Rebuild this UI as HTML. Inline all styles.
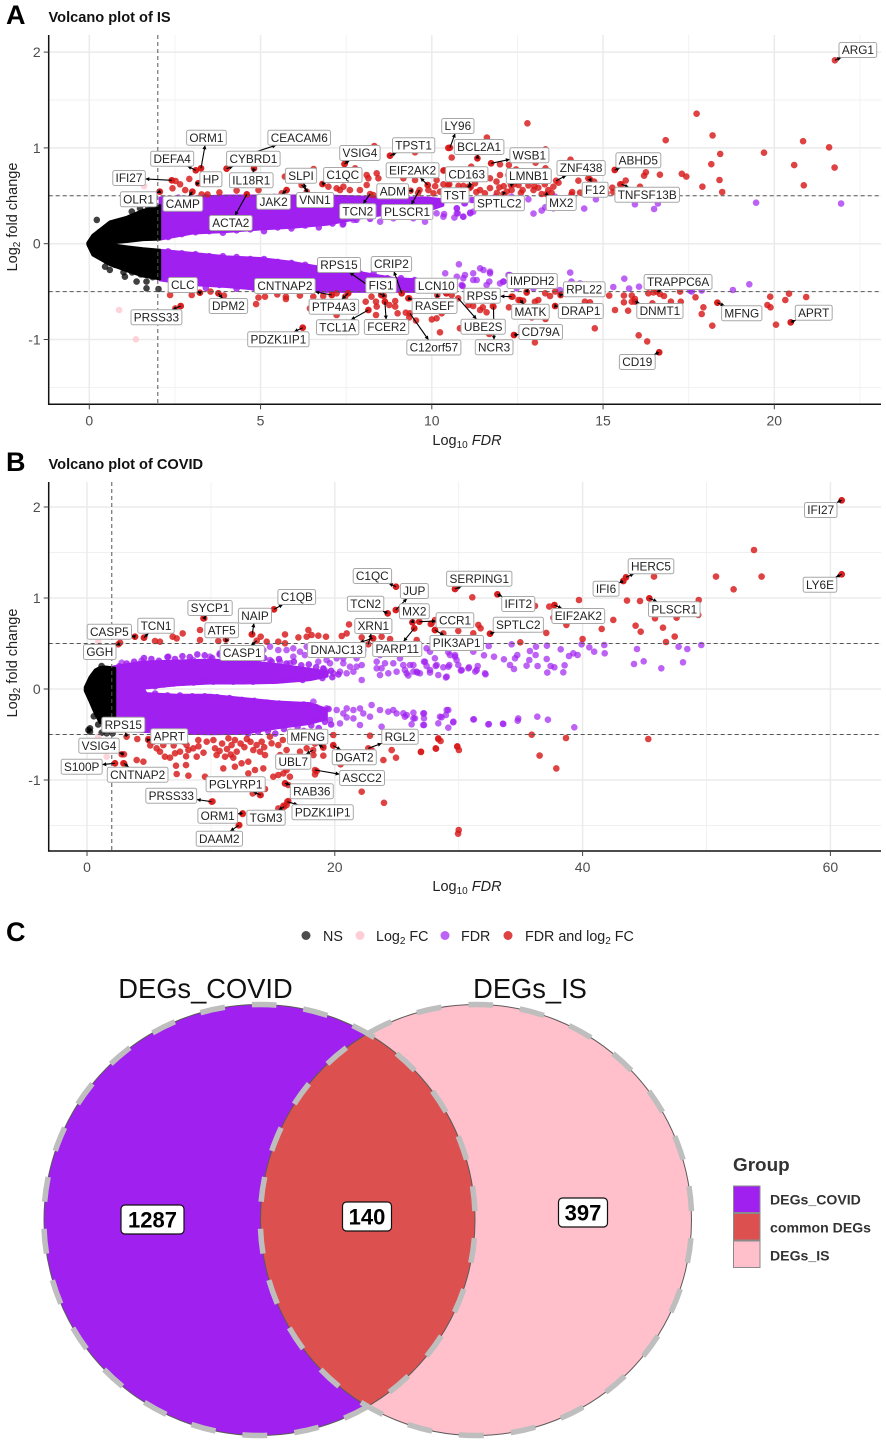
<!DOCTYPE html>
<html lang="en">
<head>
<meta charset="utf-8">
<title>Volcano plots of IS and COVID with DEG Venn diagram</title>
<style>
html,body{margin:0;padding:0;background:#fff;}
svg{display:block;font-family:"Liberation Sans",Arial,sans-serif;}
</style>
</head>
<body>
<svg id="fig" xmlns="http://www.w3.org/2000/svg" width="886" height="1442" viewBox="0 0 886 1442">
  <text x="6" y="24" font-size="27" font-weight="700" fill="#000">A</text>
  <text x="48.5" y="22" font-size="14.6" font-weight="700" fill="#111">Volcano plot of IS</text>
  <g id="panelA"></g>
  <text x="467" y="445" font-size="14.5" fill="#222" text-anchor="middle">Log<tspan dy="3" font-size="10">10</tspan><tspan dy="-3" font-style="italic"> FDR</tspan></text>
  <text transform="translate(17,217) rotate(-90)" font-size="14.5" fill="#222" text-anchor="middle">Log<tspan dy="3" font-size="10">2</tspan><tspan dy="-3"> fold change</tspan></text>

  <text x="6" y="471" font-size="27" font-weight="700" fill="#000">B</text>
  <text x="48.5" y="469" font-size="14.6" font-weight="700" fill="#111">Volcano plot of COVID</text>
  <g id="panelB"></g>
  <text x="467" y="891" font-size="14.5" fill="#222" text-anchor="middle">Log<tspan dy="3" font-size="10">10</tspan><tspan dy="-3" font-style="italic"> FDR</tspan></text>
  <text transform="translate(17,663) rotate(-90)" font-size="14.5" fill="#222" text-anchor="middle">Log<tspan dy="3" font-size="10">2</tspan><tspan dy="-3"> fold change</tspan></text>

  <text x="6" y="941" font-size="27" font-weight="700" fill="#000">C</text>

  <g font-size="14.3" fill="#222">
    <g>
      <circle cx="306" cy="935.5" r="4.5" fill="#000" fill-opacity=".7"/>
      <text x="323" y="941">NS</text>
    </g>
    <g>
      <circle cx="360" cy="935.5" r="4.5" fill="#ffc0cb" fill-opacity=".8"/>
      <text x="376" y="941">Log<tspan dy="3" font-size="10">2</tspan><tspan dy="-3"> FC</tspan></text>
    </g>
    <g>
      <circle cx="445" cy="935.5" r="4.5" fill="#a020f0" fill-opacity=".7"/>
      <text x="461" y="941">FDR</text>
    </g>
    <g>
      <circle cx="508" cy="935.5" r="4.5" fill="#d81818" fill-opacity=".82"/>
      <text x="525" y="941">FDR and log<tspan dy="3" font-size="10">2</tspan><tspan dy="-3"> FC</tspan></text>
    </g>
  </g>

  <g>
    <text x="205.5" y="998" font-size="27.3" fill="#111" text-anchor="middle">DEGs_COVID</text>
    <text x="530" y="998" font-size="27.3" fill="#111" text-anchor="middle">DEGs_IS</text>
    <circle cx="476" cy="1220" r="215.5" fill="#ffc0cb"/>
    <circle cx="259.5" cy="1220" r="215.5" fill="#a020f0"/>
    <path d="M367.75 1033.7 A215.5 215.5 0 0 1 367.75 1406.3 A215.5 215.5 0 0 1 367.75 1033.7 Z" fill="#dd5050"/>
    <circle cx="259.5" cy="1220" r="215.5" fill="none" stroke="#5a5a5a" stroke-width="1"/>
    <circle cx="476" cy="1220" r="215.5" fill="none" stroke="#5a5a5a" stroke-width="1"/>
    <path d="M259.5 1004.5 A215.5 215.5 0 1 1 259.5 1435.5 A215.5 215.5 0 1 1 259.5 1004.5" fill="none" stroke="#bebebe" stroke-width="5.5" stroke-dasharray="25 27.1" stroke-dashoffset="8"/>
    <path d="M476 1004.5 A215.5 215.5 0 1 1 476 1435.5 A215.5 215.5 0 1 1 476 1004.5" fill="none" stroke="#bebebe" stroke-width="5.5" stroke-dasharray="25 27.1" stroke-dashoffset="8"/>
    <g>
      <rect x="121" y="1205" width="63" height="29" rx="4" fill="#fff" stroke="#111" stroke-width="1.2"/>
      <text x="152.5" y="1227.5" font-size="22" font-weight="700" text-anchor="middle" fill="#000">1287</text>
    </g>
    <g>
      <rect x="342.5" y="1202" width="49" height="29" rx="4" fill="#fff" stroke="#111" stroke-width="1.2"/>
      <text x="367" y="1224.5" font-size="22" font-weight="700" text-anchor="middle" fill="#000">140</text>
    </g>
    <g>
      <rect x="558.5" y="1198" width="49" height="29" rx="4" fill="#fff" stroke="#111" stroke-width="1.2"/>
      <text x="583" y="1220.5" font-size="22" font-weight="700" text-anchor="middle" fill="#000">397</text>
    </g>
  </g>

  <g>
    <text x="733" y="1171" font-size="18.9" font-weight="700" fill="#333">Group</text>
    <g>
      <rect x="733.5" y="1186" width="26.5" height="26.5" fill="#a020f0" stroke="#8a8a8a" stroke-width="1"/>
      <text x="770" y="1204.5" font-size="14.1" font-weight="700" fill="#333">DEGs_COVID</text>
    </g>
    <g>
      <rect x="733.5" y="1213.5" width="26.5" height="26.5" fill="#dd5050" stroke="#8a8a8a" stroke-width="1"/>
      <text x="770" y="1232.5" font-size="14.1" font-weight="700" fill="#333">common DEGs</text>
    </g>
    <g>
      <rect x="733.5" y="1241" width="26.5" height="26.5" fill="#ffc0cb" stroke="#8a8a8a" stroke-width="1"/>
      <text x="770" y="1260.5" font-size="14.1" font-weight="700" fill="#333">DEGs_IS</text>
    </g>
  </g>
</svg>

<script>
// ---------- Panel A (IS): axes ----------
const isXTicks = [0, 5, 10, 15, 20];
const isXMinor = [2.5, 7.5, 12.5, 17.5, 22.5];
const isYTicks = [-1, 0, 1, 2];
const isYMinor = [-1.5, -0.5, 0.5, 1.5];
const thresholdFdr = 2;
const thresholdFc = [-0.5, 0.5];

// ---------- Panel A: dense clouds (envelopes of the overplotted points) ----------
const isNsCloudFdr = [-0.05, 0.1, 0.6, 1.1, 1.57, 2.06];
const isNsCloudTop = [0.01, 0.09, 0.23, 0.28, 0.35, 0.4];
const isNsCloudInnerTop = [0, 0, 0.005, 0.02, 0.04, 0.045];
const isNsCloudInnerBottom = [0, 0, -0.005, -0.03, -0.05, -0.066];
const isNsCloudBottom = [-0.01, -0.12, -0.22, -0.285, -0.34, -0.37];

const isUpCloudFdr = [2.06, 3.04, 4.01, 4.98, 5.96, 6.93, 7.9, 8.88, 9.85, 10.33];
const isUpCloudTop = [0.48, 0.49, 0.5, 0.5, 0.5, 0.5, 0.49, 0.48, 0.48, 0.46];
const isUpCloudInner = [0.045, 0.11, 0.125, 0.15, 0.17, 0.2, 0.265, 0.32, 0.34, 0.4];

const isDownCloudFdr = [2.06, 3.04, 4.01, 4.98, 5.96, 6.93, 7.9, 8.88, 9.85, 10.4];
const isDownCloudInner = [-0.066, -0.1, -0.135, -0.152, -0.194, -0.257, -0.3, -0.36, -0.38, -0.44];
const isDownCloudBottom = [-0.38, -0.43, -0.45, -0.48, -0.49, -0.5, -0.5, -0.5, -0.5, -0.48];

// ---------- Panel A: points along the rough edges of the clouds ----------
const isEdgeFdr = [2.3, 2.7, 3.1, 3.5, 3.9, 4.3, 4.7, 5.1, 5.5, 5.9, 6.3, 6.7, 7.1, 7.4, 7.8, 8.2, 8.6, 9, 9.4, 9.7,
  2.3, 2.7, 3.1, 3.5, 3.9, 4.3, 4.7, 5.1, 5.5, 5.9, 6.3, 6.7, 7.1, 7.5, 7.9, 8.3, 8.7, 9.1, 9.5, 9.9, 10.3,
  2.4, 2.9, 3.4, 3.8, 4.3, 4.8, 5.3, 5.8, 10.1, 10.4, 10.6, 10.9,
  2.2, 2.6, 3, 3.4, 3.8, 4.2, 4.6, 5, 5.4];
const isEdgeFc = [0.07, 0.1, 0.12, 0.13, 0.115, 0.14, 0.15, 0.13, 0.17, 0.16, 0.19, 0.17, 0.21, 0.2, 0.25, 0.26, 0.3, 0.31, 0.33, 0.36,
  -0.08, -0.1, -0.11, -0.13, -0.13, -0.14, -0.16, -0.16, -0.19, -0.2, -0.22, -0.25, -0.27, -0.28, -0.31, -0.31, -0.36, -0.36, -0.38, -0.4, -0.41,
  -0.41, -0.45, -0.46, -0.43, -0.47, -0.46, -0.49, -0.48, -0.42, -0.45, -0.4, -0.44,
  0.47, 0.48, 0.47, 0.49, 0.48, 0.47, 0.49, 0.48, 0.49];

// ---------- Panel A: individual points ----------
const isNsFdr = [0.22, 0.46, 0.6, 1, 1.38, 1.67, 2.02, 1.04, 1.67, 1.48, 1.72, 1.24, 0.3, 0.5, 0.75, 1, 1.25, 1.5, 1.8, 0.3, 0.5, 0.75, 1, 1.25, 1.5, 1.85];
const isNsFc = [0.248, -0.24, -0.274, -0.298, -0.396, -0.466, -0.473, -0.344, -0.396, 0.369, 0.387, 0.335, 0.12, 0.17, 0.22, 0.24, 0.28, 0.31, 0.36, -0.13, -0.18, -0.22, -0.25, -0.3, -0.32, -0.35];

const isPinkFdr = [1.6, 0.87, 1.36];
const isPinkFc = [0.6, -0.692, -0.998];

const isPurpleFdr = [19.47, 21.95, 16.6, 16.49, 15.93, 14.79, 14.45, 13.6, 13.55, 13.31, 13.21, 12.97, 12.82, 12.33, 11.85, 11.21, 11.12, 10.92, 10.73, 10.76, 10.66, 10.36, 10.95, 11.16, 10.39,
  7.42, 7.71, 8.49, 8.88, 9.46, 9.8, 10.14, 10.34, 10.73, 10.73, 10.92, 11.12, 10.19, 9.95, 10.97, 11.21, 9.56,
  10.79, 14.04, 11.51, 11.7, 15.62, 15.3, 15.76, 16.05, 19.27, 18.79, 17.88, 17.59, 17.54, 14.08, 14.33, 13.74, 12.24, 11.99, 12.09, 11.68, 11.21, 10.97, 10.73, 10.39, 11.31, 10.87, 12.48, 12.97,
  11.7, 12.09, 11.41, 10.92, 11.21, 11.6, 12.28];
const isPurpleFc = [0.428, 0.42, 0.42, 0.362, 0.411, 0.463, 0.366, 0.491, 0.369, 0.38, 0.345, 0.314, 0.463, 0.491, 0.491, 0.334, 0.324, 0.282, 0.369, 0.317, 0.272, 0.31, 0.422, 0.456, 0.456,
  0.213, 0.248, 0.23, 0.265, 0.265, 0.23, 0.317, 0.282, 0.369, 0.317, 0.282, 0.317, 0.439, 0.404, 0.422, 0.456, 0.317,
  -0.215, -0.302, -0.275, -0.309, -0.365, -0.452, -0.469, -0.449, -0.424, -0.483, -0.49, -0.5, -0.49, -0.396, -0.414, -0.483, -0.327, -0.414, -0.396, -0.396, -0.309, -0.327, -0.344, -0.309, -0.379, -0.431, -0.466, -0.466,
  -0.292, -0.396, -0.257, -0.361, -0.379, -0.431, -0.327];

const isRedFdr = [2.05, 2.41, 2.52, 2.65, 2.92, 2.43, 2.8, 3.01, 3.11, 3.18, 3.26, 3.28, 3.45, 3.8, 4.01, 4.3, 4.6, 4.81, 4.94, 5.62, 5.71, 5.76, 6.55, 6.81, 6.98, 7.22, 7.32, 7.42, 7.45, 7.61, 7.76, 7.88, 7.9, 8.1, 8.15, 8.1, 8.29, 8.32, 8.39, 8.44, 8.78, 9.17, 9.51, 9.51, 9.88, 10.05, 10.24, 10.14, 10.34, 10.48, 10.48,
  10.51, 10.58, 11.61, 11.33, 11.73, 11.99, 12.25, 11.15, 10.36, 13.03, 13.32, 13.32, 12.46, 14.05, 11.99, 11.7, 12.24, 12.77, 13.7, 13.55, 13.4, 13.21, 12.82, 12.65, 12.33, 11.97, 11.41, 11.55, 11.89, 11.26, 10.92, 10.78, 10.51, 10.34, 14.28, 14.74, 14.57, 14.33, 14.08, 12.97, 13.11, 12.53, 12.19,
  8.9, 9.2, 9.6, 9.9, 10.1, 10.6, 10.9, 11.1, 11.3, 11.7, 11.9, 12.1, 12.4, 12.6, 13, 13.3, 13.5, 14.1, 14.9, 15.1, 15.3,
  17.73, 12.79, 18.2, 16.83, 20.84, 21.6, 18.42, 19.7, 20.58, 21.76, 18.16, 18.4, 20.86, 17.9, 18.48, 17.3, 17.43, 16.66, 16.25, 16.2, 15.34, 15.66, 15.5, 16.08, 15.27,
  2.36, 2.51, 2.67, 2.99, 3.23, 3.54, 3.77, 3.93, 4.87, 4.94, 5.13, 5.49, 5.74, 5.74, 6.15, 6.54, 6.83, 7.08, 7.22, 7.56, 7.47, 6.44, 7.22, 8.07, 8.24, 8.37, 8.39, 8.37, 8.15, 8.52, 8.63, 8.76, 8.93, 8.93, 9, 9.12, 9.24, 9.34, 9.34, 9.54, 10, 10.14, 10.24, 10.29, 10.43, 6.23,
  10.42, 10.58, 10.82, 11.07, 11.21, 11.41, 11.49, 11.6, 11.78, 11.68, 12.4, 12.25, 12.36, 12.53, 12.67, 12.77, 13.01, 13.11, 12.92, 13.32, 13.01, 13.31, 13.45, 13.6, 13.6, 13.76, 14.47, 14.62, 14.76, 15.18, 15.35, 15.61, 15.61, 15.73, 15.84, 15.84, 15.93, 16.32, 16.47, 16.44, 16.04, 16.29, 16.64, 16.66, 16.78, 16.98, 17.25, 17.27, 17.7, 17.93, 17.88, 18.19, 18.34, 19.8, 19.89, 19.88, 20.05, 20.48, 20.32, 20.43, 20.93];
const isRedFc = [0.543, 0.662, 0.655, 0.62, 0.676, 0.578, 0.56, 0.543, 0.766, 0.63, 0.787, 0.515, 0.515, 0.536, 0.783, 0.554, 0.515, 0.787, 0.56, 0.526, 0.7, 0.56, 0.78, 0.623, 0.595, 0.578, 0.56, 0.595, 0.832, 0.56, 0.787, 0.752, 0.56, 0.717, 0.683, 0.613, 0.508, 1.02, 0.735, 0.683, 0.919, 0.683, 0.954, 0.665, 0.613, 0.526, 0.543, 0.665, 0.763, 1, 0.613,
  1, 0.9, 1.107, 0.891, 0.839, 0.829, 0.822, 0.804, 0.766, 0.846, 0.985, 0.787, 0.776, 0.877, 0.717, 0.683, 0.717, 0.717, 0.637, 0.595, 0.56, 0.519, 0.609, 0.56, 0.56, 0.588, 0.56, 0.526, 0.648, 0.63, 0.603, 0.603, 0.62, 0.62, 0.658, 0.648, 0.683, 0.533, 0.515, 0.56, 0.585, 0.613, 0.543,
  0.55, 0.58, 0.53, 0.56, 0.6, 0.55, 0.54, 0.58, 0.54, 0.58, 0.53, 0.6, 0.62, 0.53, 0.6, 0.62, 0.53, 0.54, 0.57, 0.53, 0.54,
  1.357, 1.257, 1.13, 1.08, 1.07, 1.006, 0.937, 0.95, 0.82, 0.794, 0.83, 0.665, 0.61, 0.595, 0.54, 0.73, 0.7, 0.72, 0.745, 0.71, 0.77, 0.66, 0.62, 0.595, 0.585,
  -0.535, -0.675, -0.65, -0.535, -0.511, -0.5, -0.518, -0.542, -0.63, -0.563, -0.553, -0.529, -0.553, -0.577, -0.542, -0.553, -0.546, -0.535, -0.518, -0.518, -0.553, -0.675, -0.744, -0.605, -0.553, -0.605, -0.657, -0.744, -0.692, -0.535, -0.605, -0.64, -0.598, -0.657, -0.727, -0.518, -0.72, -0.57, -0.769, -0.803, -0.79, -0.779, -0.925, -0.727, -0.518, -0.877,
  -0.518, -0.535, -0.883, -0.64, -0.65, -0.692, -0.664, -0.716, -0.65, -0.943, -0.953, -0.664, -0.553, -0.588, -0.595, -0.511, -0.605, -0.588, -0.769, -0.786, -1.03, -0.518, -0.546, -0.5, -0.65, -0.535, -0.605, -0.612, -0.883, -0.542, -0.692, -0.542, -0.612, -0.699, -0.542, -0.605, -0.577, -0.518, -0.508, -0.622, -0.956, -1.02, -1.134, -0.525, -0.546, -0.605, -0.5, -0.605, -0.56, -0.664, -0.734, -0.856, -0.616, -0.64, -0.664, -0.553, -0.845, -0.821, -0.588, -0.522, -0.556];

// ---------- Panel A: labelled genes ----------
const isGeneNames = ["ORM1","CEACAM6","DEFA4","CYBRD1","HP","IL18R1","IFI27","OLR1","CAMP","ACTA2","JAK2","SLPI","VNN1","C1QC","VSIG4","TPST1","EIF2AK2","ADM","TCN2","PLSCR1","LY96","BCL2A1","WSB1","CD163","TST","LMNB1","ZNF438","SPTLC2","MX2","F12","ABHD5","TNFSF13B","ARG1","RPS15","CRIP2","CLC","CNTNAP2","FIS1","LCN10","DPM2","PTP4A3","RASEF","TCL1A","FCER2","PDZK1IP1","PRSS33","C12orf57","IMPDH2","TRAPPC6A","RPL22","RPS5","MATK","DRAP1","DNMT1","MFNG","APRT","UBE2S","NCR3","CD79A","CD19"];
const isGeneFdr = [3.26, 4.49, 3.11, 4.01, 3.18, 4.81, 2.41, 2.06, 3.01, 4.6, 5.76, 6.35, 6.2, 6.81, 7.45, 8.78, 9.88, 9.38, 8.2, 9.64, 10.53, 11.33, 11.73, 11.14, 11.07, 12.31, 13.63, 12.09, 13.35, 14.62, 15.34, 15.54, 21.77, 8.54, 9.12, 3.23, 7.08, 8.6, 10.16, 3.77, 7.56, 9.31, 8.15, 8.63, 6.23, 2.67, 9.36, 12.77, 16.57, 13.76, 12.33, 12.58, 13.6, 15.93, 18.34, 20.48, 10.77, 11.8, 12.4, 16.64];
const isGeneFc = [0.787, 0.915, 0.766, 0.783, 0.63, 0.787, 0.662, 0.543, 0.543, 0.516, 0.56, 0.543, 0.613, 0.623, 0.832, 0.919, 0.613, 0.553, 0.519, 0.56, 1.002, 0.891, 0.839, 0.595, 0.595, 0.613, 0.658, 0.519, 0.519, 0.672, 0.769, 0.62, 1.914, -0.535, -0.518, -0.511, -0.535, -0.546, -0.535, -0.518, -0.518, -0.57, -0.692, -0.605, -0.877, -0.65, -0.726, -0.501, -0.501, -0.535, -0.553, -0.588, -0.65, -0.605, -0.616, -0.82, -0.57, -0.658, -0.953, -1.134];
const isLabelFdr = [3.42, 6.13, 2.42, 4.79, 3.55, 4.73, 1.16, 1.44, 2.73, 4.13, 5.38, 6.18, 6.59, 7.4, 7.9, 9.47, 9.44, 8.86, 7.84, 9.28, 10.76, 11.38, 12.85, 11.02, 10.68, 12.83, 14.36, 11.97, 13.78, 14.77, 16.03, 16.29, 22.44, 7.29, 8.82, 2.73, 5.71, 8.52, 10.13, 4.06, 7.14, 10.08, 7.25, 8.68, 5.52, 1.96, 10.06, 12.93, 17.19, 14.45, 11.47, 12.88, 14.35, 16.66, 19.05, 21.15, 11.5, 11.82, 13.18, 16];
const isLabelFc = [1.106, 1.106, 0.887, 0.887, 0.672, 0.662, 0.686, 0.463, 0.418, 0.216, 0.438, 0.71, 0.456, 0.717, 0.947, 1.027, 0.766, 0.547, 0.338, 0.331, 1.229, 1.009, 0.923, 0.724, 0.505, 0.707, 0.79, 0.422, 0.425, 0.564, 0.871, 0.511, 2.022, -0.222, -0.212, -0.431, -0.442, -0.434, -0.438, -0.65, -0.658, -0.65, -0.873, -0.87, -0.998, -0.768, -1.083, -0.389, -0.4, -0.476, -0.543, -0.71, -0.703, -0.703, -0.727, -0.72, -0.866, -1.081, -0.922, -1.235];

// ---------- Panel B (COVID): axes ----------
const covidXTicks = [0, 20, 40, 60];
const covidXMinor = [10, 30, 50];
const covidYTicks = [-1, 0, 1, 2];
const covidYMinor = [-1.5, -0.5, 0.5, 1.5];

// ---------- Panel B: dense clouds ----------
const covidNsCloudFdr = [-0.16, 0.24, 0.65, 1.05, 1.45, 1.86, 2.26];
const covidNsCloudTop = [0.02, 0.135, 0.21, 0.24, 0.245, 0.24, 0.23];
const covidNsCloudBottom = [-0.02, -0.14, -0.27, -0.37, -0.37, -0.36, -0.34];

const covidUpCloudFdr = [2.13, 4.54, 4.8, 7.23, 9.93, 12.62, 15.3, 18, 19.4];
const covidUpCloudTop = [0.245, 0.3, 0.3, 0.31, 0.32, 0.31, 0.27, 0.22, 0.19];
const covidUpCloudInner = [0, 0, 0.01, 0.044, 0.063, 0.063, 0.07, 0.1, 0.14];

const covidDownCloudFdr = [2.26, 4.55, 4.8, 7.24, 9.93, 12.62, 15.31, 18, 19.34];
const covidDownCloudInner = [0, 0, -0.048, -0.066, -0.066, -0.103, -0.14, -0.158, -0.22];
const covidDownCloudBottom = [-0.45, -0.47, -0.47, -0.488, -0.495, -0.49, -0.43, -0.38, -0.33];

// ---------- Panel B: points along the rough edges of the clouds ----------
const covidEdgeFdr = [2.6, 3.2, 3.8, 4.6, 5.2, 5.8, 6.5, 7.1, 7.7, 8.3, 8.9, 9.5, 10.1, 10.7, 11.3, 11.9, 12.5, 13.1, 13.7, 14.3, 14.9, 15.5, 16.1, 16.7, 17.3, 17.9, 18.5, 19.1, 19.7, 20.3,
  5.5, 6.2, 7, 7.8, 8.6, 9.4, 10.2, 11, 11.8, 12.6, 13.4, 14.2, 15, 15.8, 16.6, 17.4, 18.2, 19, 19.8,
  5.5, 6.5, 7.5, 8.5, 9.5, 10.5, 11.5, 12.5, 13.5, 14.5, 15.5, 16.5, 17.5, 18.5, 19.5,
  13, 13.8, 14.6, 15.2, 15.9, 16.4, 17, 17.5, 18.1, 18.7, 19.2, 19.7];
const covidEdgeFc = [0.25, 0.28, 0.3, 0.34, 0.33, 0.31, 0.35, 0.33, 0.36, 0.35, 0.38, 0.37, 0.34, 0.38, 0.36, 0.33, 0.35, 0.37, 0.32, 0.34, 0.3, 0.33, 0.28, 0.3, 0.26, 0.27, 0.24, 0.22, 0.2, 0.16,
  0.03, 0.05, 0.06, 0.07, 0.07, 0.09, 0.08, 0.09, 0.08, 0.09, 0.08, 0.1, 0.09, 0.1, 0.11, 0.1, 0.13, 0.12, 0.13,
  -0.05, -0.07, -0.07, -0.08, -0.08, -0.09, -0.1, -0.12, -0.13, -0.15, -0.16, -0.18, -0.17, -0.2, -0.22,
  -0.49, -0.47, -0.46, -0.49, -0.44, -0.47, -0.42, -0.46, -0.4, -0.43, -0.36, -0.39];

// ---------- Panel B: individual points ----------
const covidNsFdr = [0.24, 0.11, 0.24, 1.19, 1.59, 2.07, 1.18, 0.55, 0.9, 1.5];
const covidNsFc = [-0.469, -0.45, -0.432, -0.48, -0.487, -0.487, 0.252, -0.3, -0.39, -0.4];

const covidPinkFdr = [0.91, 1.59, 0.9, 1.18];
const covidPinkFc = [0.52, -0.744, -0.524, -0.615];

const covidPurpleFdr = [6.56, 4.41, 2.8, 12.62, 13.29, 14.23, 14.77, 15.44, 16.11, 16.65, 17.19, 17.59, 18.67, 19.07, 19.61, 20.15, 20.69, 21.5, 22.17, 22.3, 21.23, 22.17, 23.38, 23.78, 24.32, 24.72, 25.26, 25.8, 26.34, 26.88, 27.28, 27.68, 28.22, 29.03, 29.16, 29.7, 30.24, 30.78, 31.45, 32.12, 23.65, 27.41, 29.3,
  19.34, 19.88, 20.42, 20.96, 21.76, 18.8, 19.34, 20.69, 21.76, 23.38, 24.05, 24.99, 25.53, 26.61, 23.65,
  10.73, 11.81, 12.35, 13.96, 14.77, 15.58, 16.38, 8.58, 9.93, 16.65, 17.73, 18.54,
  34.27, 35.75, 36.24, 37.12, 38.23, 39.92, 40.54, 40.94, 41.75, 41.78, 44.39, 44.15, 44.93, 46.35, 47.75, 48.45, 48.1, 49.58, 39.6, 39.25, 38.9, 37.1, 36.21, 35.7, 34.73, 34.54, 33.65, 32.85, 32.04, 32.42, 34.14, 34.46, 35.48, 36.37, 37.42, 37.72, 37.15, 38.44, 38.55, 32.17, 31.53, 31.34, 30.83, 30.18, 29.83, 29.97, 29.7, 29.24, 28.76, 28.97, 28.14, 28.35, 27.68, 27.41, 27.2, 26.66, 26.34, 25.93, 25.66, 26.07, 28.08, 27.68, 29.16, 31.18,
  25.53, 26.34, 26.47, 27.2, 27.2, 27.2, 28.35, 28.62, 28.97, 29.16, 29.56, 29.16, 31.23, 32.44, 33.57, 34.76, 36.34, 37.2, 39.33, 26.2, 25.66,
  18.27, 17.86, 18.8, 19.34, 20.15, 20.96, 21.5, 22.03, 22.97, 23.65, 24.32, 24.99, 25.8, 26.34, 27.14, 27.14, 28.49, 29.03, 29.57, 31.18, 32.39, 33.6, 34.81, 22.03, 19.61, 20.42, 18.54, 20.96, 22.84, 23.78, 24.72, 20.69, 21.5, 22.3];
const covidPurpleFc = [0.355, 0.311, 0.289, 0.245, 0.282, 0.428, 0.465, 0.428, 0.428, 0.355, 0.41, 0.373, 0.3, 0.227, 0.282, 0.337, 0.282, 0.19, 0.099, 0.428, 0.245, 0.263, 0.3, 0.227, 0.172, 0.282, 0.337, 0.172, 0.263, 0.172, 0.3, 0.208, 0.263, 0.135, 0.245, 0.355, 0.208, 0.227, 0.208, 0.172, 0.373, 0.447, 0.373,
  0.19, 0.172, 0.19, 0.172, 0.245, 0.172, 0.318, 0.337, 0.337, 0.227, 0.282, 0.19, 0.263, 0.19, 0.153,
  0.392, 0.355, 0.41, 0.337, 0.318, 0.3, 0.282, 0.318, 0.355, 0.447, 0.465, 0.428,
  0.491, 0.418, 0.465, 0.476, 0.436, 0.491, 0.458, 0.41, 0.484, 0.392, 0.44, 0.275, 0.304, 0.227, 0.465, 0.44, 0.293, 0.484, 0.374, 0.392, 0.363, 0.33, 0.374, 0.319, 0.374, 0.337, 0.326, 0.355, 0.37, 0.473, 0.264, 0.22, 0.256, 0.253, 0.253, 0.238, 0.18, 0.183, 0.26, 0.161, 0.253, 0.191, 0.238, 0.202, 0.319, 0.264, 0.374, 0.264, 0.238, 0.128, 0.253, 0.154, 0.18, 0.253, 0.3, 0.18, 0.191, 0.147, 0.209, 0.264, 0.337, 0.41, 0.403, 0.41,
  -0.267, -0.26, -0.322, -0.267, -0.322, -0.396, -0.377, -0.311, -0.286, -0.231, -0.366, -0.425, -0.333, -0.385, -0.381, -0.348, -0.304, -0.337, -0.421, -0.388, -0.304,
  -0.14, -0.195, -0.231, -0.213, -0.231, -0.213, -0.231, -0.213, -0.176, -0.231, -0.249, -0.268, -0.286, -0.323, -0.268, -0.396, -0.304, -0.231, -0.359, -0.334, -0.389, -0.385, -0.323, -0.396, -0.341, -0.378, -0.323, -0.312, -0.304, -0.414, -0.231, -0.268, -0.323, -0.268];

const covidRedFdr = [60.91, 53.83, 50.77, 54.45, 52.19, 45.76, 43.5, 43.29, 49.37, 39.71, 43.58, 44.63, 45.39, 31.1, 33.12, 29.7, 36.16, 37.31, 37.72, 37.64, 49.34, 47.59, 45.84, 42.48, 41.54, 38.69, 37.07, 46.49, 44.28, 44.69, 47.43, 46.73, 40, 34.97, 32.53, 31.58, 31.77, 31.18, 29.97, 60.91,
  2.67, 3.88, 4.6, 5.49, 5.89, 6.92, 7.24, 7.72, 9.12, 9.12, 9.39, 10.6, 11.22, 13.29, 14.02, 14.5, 15.44, 15.98, 15.98, 15.09, 17.06, 17.73, 17.87, 18.13, 18.67, 19.29, 20.56, 20.96, 21.15, 22.17, 23.11, 23.78, 24.46, 24.27, 24.94, 24.92, 26.26, 26.82, 26.42, 28.09, 28.09, 26.61, 27.82, 28.76, 27.74, 28.08,
  35.89, 38.66, 36.53, 37.88, 45.3, 28.35, 28.54, 29.89, 30.02, 28.17, 26.95, 30, 29.95,
  5.62, 5.89, 6.29, 6.7, 7.1, 7.51, 8.04, 8.18, 8.58, 8.85, 8.98, 9.66, 10.33, 10.46, 11, 11.14, 11.41, 11.67, 11.94, 12.08, 11.81, 11.94, 12.48, 13.02, 13.42, 13.69, 13.96, 14.1, 14.37, 14.77, 14.9, 15.44, 15.58, 16.11, 16.65, 17.19, 17.73, 18.27, 19.07, 19.07, 19.88, 20.15, 20.47, 24.59, 24.94, 23.92, 22.97, 26.96, 28.14, 28.35, 29.89, 22.84, 22.17, 23.97, 18.54, 18.4, 15.04, 15.44, 15.85, 16.11, 16.38, 15.98, 16.25, 13.56, 14.23, 13.02, 9.52, 14.37, 13.96, 13.37, 10.14, 16.25, 16.11, 15.85, 15.44, 12.56, 12.29, 5.35, 6.16, 10.2, 7.24, 8.18, 7.18, 7.99, 4.06, 4.95, 4.01, 4.55, 2.26, 2.93, 2.8, 19.88,
  5.1, 6.6, 7.8, 9, 9.4, 10.9, 11.3, 12.4, 12.9, 12.7, 13.2, 11.6, 10.7, 7, 8, 15.8, 17.6, 18.4, 6, 14.3];
const covidRedFc = [2.074, 1.528, 1.235, 1.235, 1.096, 1.235, 1.227, 1.187, 0.978, 0.978, 0.971, 0.967, 0.997, 1.008, 1.041, 1.099, 0.913, 0.905, 0.923, 0.784, 0.814, 0.784, 0.777, 0.759, 0.66, 0.704, 0.616, 0.674, 0.696, 0.63, 0.576, 0.517, 0.55, 0.513, 0.608, 0.704, 0.667, 0.612, 0.638, 1.26,
  0.509, 0.575, 0.564, 0.527, 0.52, 0.575, 0.556, 0.611, 0.648, 0.538, 0.776, 0.527, 0.545, 0.6, 0.575, 0.52, 0.52, 0.6, 0.502, 0.875, 0.567, 0.575, 0.648, 0.593, 0.586, 0.575, 0.582, 0.611, 0.71, 0.567, 0.556, 0.575, 0.549, 0.831, 1.124, 0.868, 0.732, 0.74, 0.666, 0.758, 0.648, 0.538, 0.721, 0.611, 0.714, 0.648,
  -0.502, -0.538, -0.732, -0.872, -0.549, -0.542, -0.571, -0.63, -0.67, -0.656, -0.692, -1.55, -1.59,
  -0.652, -0.689, -0.744, -0.755, -0.707, -0.689, -0.616, -0.671, -0.652, -0.744, -0.561, -0.579, -0.652, -0.726, -0.872, -0.744, -0.542, -0.616, -0.561, -0.689, -0.755, -0.854, -0.817, -0.799, -0.671, -0.616, -0.689, -0.579, -0.726, -0.524, -0.597, -0.616, -0.726, -0.671, -0.542, -0.689, -0.652, -0.726, -0.634, -0.733, -0.616, -0.799, -0.828, -0.671, -0.755, -0.781, -0.671, -0.689, -0.652, -0.55, -0.634, -0.513, -1.129, -1.25, -0.902, -0.938, -0.964, -0.945, -0.927, -0.89, -0.964, -1.037, -1.055, -0.89, -0.872, -0.927, -0.964, -1.099, -1.165, -1.147, -1.235, -1.231, -1.275, -1.282, -1.312, -1.374, -1.495, -0.579, -0.616, -0.561, -0.934, -0.953, -0.843, -0.836, -0.55, -0.55, -0.781, -0.799, -0.817, -0.817, -0.718, -0.506,
  -0.62, -0.56, -0.58, -0.63, -0.7, -0.6, -0.66, -0.6, -0.55, -0.64, -0.58, -0.72, -0.68, -0.62, -0.74, -0.56, -0.56, -0.6, -0.52, -0.64];

// ---------- Panel B: labelled genes ----------
const covidGeneNames = ["C1QC","JUP","TCN2","MX2","C1QB","NAIP","SYCP1","ATF5","TCN1","CASP5","GGH","CASP1","XRN1","DNAJC13","PARP11","CCR1","PIK3AP1","SERPING1","IFIT2","SPTLC2","EIF2AK2","HERC5","IFI6","PLSCR1","IFI27","LY6E","RPS15","APRT","VSIG4","S100P","CNTNAP2","MFNG","UBL7","DGAT2","RGL2","ASCC2","RAB36","PGLYRP1","PRSS33","ORM1","TGM3","PDZK1IP1","DAAM2"];
const covidGeneFdr = [24.94, 24.92, 24.27, 26.26, 15.09, 13.34, 9.47, 11.22, 4.6, 3.87, 2.53, 13.7, 22.7, 23.06, 26.42, 26.82, 28.09, 29.7, 33.12, 32.53, 37.72, 43.5, 43.28, 45.38, 60.91, 60.91, 3.2, 4.95, 2.99, 2.26, 2.99, 19.07, 18.26, 19.88, 22.7, 18.4, 15.98, 14.02, 10.06, 12.57, 15.92, 16.17, 12.24];
const covidGeneFc = [1.124, 0.868, 0.832, 0.733, 0.876, 0.601, 0.777, 0.546, 0.564, 0.575, 0.491, 0.531, 0.491, 0.557, 0.667, 0.74, 0.648, 1.099, 1.041, 0.608, 0.923, 1.227, 1.187, 0.997, 2.074, 1.26, -0.524, -0.56, -0.718, -0.816, -0.816, -0.645, -0.67, -0.623, -0.652, -0.89, -1.036, -1.165, -1.238, -1.366, -1.293, -1.238, -1.498];
const covidLabelFdr = [23.03, 26.42, 22.49, 26.42, 16.93, 13.56, 9.93, 10.87, 5.57, 1.8, 1.03, 12.53, 23.11, 20.15, 25.04, 29.7, 29.84, 31.66, 34.81, 34.81, 39.65, 45.52, 41.89, 47.4, 59.22, 59.16, 2.93, 6.64, 0.97, -0.43, 4.09, 17.81, 16.65, 21.57, 25.26, 22.2, 18.14, 12, 6.8, 10.55, 14.45, 19.02, 10.68];
const covidLabelFc = [1.242, 1.077, 0.937, 0.854, 1.011, 0.805, 0.89, 0.645, 0.696, 0.63, 0.407, 0.396, 0.692, 0.429, 0.44, 0.755, 0.505, 1.212, 0.934, 0.707, 0.802, 1.348, 1.102, 0.876, 1.967, 1.146, -0.392, -0.52, -0.623, -0.854, -0.942, -0.524, -0.799, -0.751, -0.524, -0.978, -1.124, -1.047, -1.173, -1.392, -1.414, -1.355, -1.645];

// ---------- Axis functions ----------
function isX(v) { return 89.3 + 34.25 * v; }
function isY(v) { return 243.7 - 95.8 * v; }
function covidX(v) { return 87 + 12.39 * v; }
function covidY(v) { return 689 - 91 * v; }

const SVG_NS = 'http://www.w3.org/2000/svg';
const COL_NS = '#000000', COL_PINK = '#ffc0cb', COL_PURPLE = '#a020f0', COL_RED = '#d81818';

function add(parent, tag, attrs) {
  const el = document.createElementNS(SVG_NS, tag);
  for (const k in attrs) el.setAttribute(k, attrs[k]);
  parent.appendChild(el);
  return el;
}

function bandPoints(xs, tops, bottoms, fx, fy) {
  const pts = [];
  for (let i = 0; i < xs.length; i++) pts.push(fx(xs[i]).toFixed(1) + ',' + fy(tops[i]).toFixed(1));
  for (let i = xs.length - 1; i >= 0; i--) pts.push(fx(xs[i]).toFixed(1) + ',' + fy(bottoms[i]).toFixed(1));
  return pts.join(' ');
}

function drawBand(group, xs, tops, bottoms, fx, fy, colour) {
  const el = add(group, 'polygon', {
    points: bandPoints(xs, tops, bottoms, fx, fy),
    fill: colour, stroke: colour, 'stroke-width': 2.5, 'stroke-linejoin': 'round'
  });
  
  
}

function drawPoints(group, xs, ys, fx, fy, colour, alpha) {
  for (let i = 0; i < xs.length; i++) {
    const el = add(group, 'circle', {
      cx: fx(xs[i]).toFixed(1), cy: fy(ys[i]).toFixed(1), r: 3.3, fill: colour, 'fill-opacity': alpha
    });
    
    
  }
}

function drawGridAndAxes(group, c) {
  for (const v of c.yMinor) {
    const el = add(group, 'line', { x1: c.left, x2: c.right, y1: c.fy(v), y2: c.fy(v), stroke: '#f0f0f0', 'stroke-width': 0.9 });
    
    
  }
  for (const v of c.xMinor) {
    const el = add(group, 'line', { x1: c.fx(v), x2: c.fx(v), y1: c.top, y2: c.bottom, stroke: '#f0f0f0', 'stroke-width': 0.9 });
    
    
  }
  for (const v of c.yTicks) {
    const el = add(group, 'line', { x1: c.left, x2: c.right, y1: c.fy(v), y2: c.fy(v), stroke: '#ebebeb', 'stroke-width': 1.5 });
    
    
  }
  for (const v of c.xTicks) {
    const el = add(group, 'line', { x1: c.fx(v), x2: c.fx(v), y1: c.top, y2: c.bottom, stroke: '#ebebeb', 'stroke-width': 1.5 });
    
    
  }
}

function drawAxes(group, c) {
  const yAxis = add(group, 'line', { x1: c.left, x2: c.left, y1: c.top, y2: c.bottom + 0.7, stroke: '#111', 'stroke-width': 1.5 });
  
  
  const xAxis = add(group, 'line', { x1: c.left, x2: c.right, y1: c.bottom, y2: c.bottom, stroke: '#111', 'stroke-width': 1.5 });
  
  
  for (const v of c.yTicks) {
    const tick = add(group, 'line', { x1: c.left - 5, x2: c.left, y1: c.fy(v), y2: c.fy(v), stroke: '#444', 'stroke-width': 1 });
    
    
    const label = add(group, 'text', { x: c.left - 8, y: c.fy(v) + 5, 'font-size': 14, fill: '#4d4d4d', 'text-anchor': 'end' });
    
    
    label.textContent = String(v);
  }
  for (const v of c.xTicks) {
    const tick = add(group, 'line', { x1: c.fx(v), x2: c.fx(v), y1: c.bottom, y2: c.bottom + 5, stroke: '#444', 'stroke-width': 1 });
    
    
    const label = add(group, 'text', { x: c.fx(v), y: c.bottom + 21, 'font-size': 14, fill: '#4d4d4d', 'text-anchor': 'middle' });
    
    
    label.textContent = String(v);
  }
}

function drawThresholds(group, c) {
  for (const v of thresholdFc) {
    const el = add(group, 'line', { x1: c.left, x2: c.right, y1: c.fy(v), y2: c.fy(v), stroke: '#555', 'stroke-width': 1, 'stroke-dasharray': '4 3' });
    
    
  }
  const vert = add(group, 'line', { x1: c.fx(thresholdFdr), x2: c.fx(thresholdFdr), y1: c.top, y2: c.bottom, stroke: '#555', 'stroke-width': 1, 'stroke-dasharray': '4 3' });
  
  
}

function drawGeneLabels(group, names, gx, gy, lx, ly, fx, fy) {
  const H = 15;
  const boxes = [];
  const connectors = add(group, 'g', {});
  
  
  for (let i = 0; i < names.length; i++) {
    const cx = fx(lx[i]), cy = fy(ly[i]);
    const box = add(group, 'rect', { y: (cy - H / 2).toFixed(1), height: H, rx: 2, fill: '#fff', stroke: '#a8a8a8', 'stroke-width': 1 });
    
    
    const text = add(group, 'text', { x: cx.toFixed(1), y: (cy + 4.2).toFixed(1), 'font-size': 11.8, fill: '#222', 'text-anchor': 'middle' });
    
    
    text.textContent = names[i];
    const w = text.getComputedTextLength() + 5.6;
    box.setAttribute('x', (cx - w / 2).toFixed(1));
    box.setAttribute('width', w.toFixed(1));
    boxes.push({ cx: cx, cy: cy, w: w });
  }
  for (let i = 0; i < names.length; i++) {
    const b = boxes[i];
    const px = fx(gx[i]), py = fy(gy[i]);
    const dx = px - b.cx, dy = py - b.cy;
    const t = Math.min(b.w / 2 / Math.max(Math.abs(dx), 0.001), H / 2 / Math.max(Math.abs(dy), 0.001));
    if (t >= 1) continue;
    const ex = b.cx + dx * t, ey = b.cy + dy * t;
    const len = Math.hypot(px - ex, py - ey) || 1;
    const ux = (ex - px) / len, uy = (ey - py) / len;
    const line = add(connectors, 'line', { x1: px.toFixed(1), y1: py.toFixed(1), x2: ex.toFixed(1), y2: ey.toFixed(1), stroke: '#000', 'stroke-width': 1.1 });
    
    
    const bx = ex - ux * 4, by = ey - uy * 4;
    const head = add(connectors, 'polygon', {
      points: ex.toFixed(1) + ',' + ey.toFixed(1) + ' ' + (bx - uy * 2).toFixed(1) + ',' + (by + ux * 2).toFixed(1) + ' ' + (bx + uy * 2).toFixed(1) + ',' + (by - ux * 2).toFixed(1),
      fill: '#000'
    });
    
    
  }
}

// ---------- Panel A ----------
(function () {
  const g = document.getElementById('panelA');
  const c = { fx: isX, fy: isY, left: 48.7, right: 881, top: 35, bottom: 404.3, xTicks: isXTicks, xMinor: isXMinor, yTicks: isYTicks, yMinor: isYMinor };
  drawGridAndAxes(g, c);
  drawBand(g, isUpCloudFdr, isUpCloudTop, isUpCloudInner, isX, isY, COL_PURPLE);
  drawBand(g, isDownCloudFdr, isDownCloudInner, isDownCloudBottom, isX, isY, COL_PURPLE);
  drawPoints(g, isEdgeFdr, isEdgeFc, isX, isY, COL_PURPLE, 0.85);
  drawPoints(g, isPurpleFdr, isPurpleFc, isX, isY, COL_PURPLE, 0.7);
  drawBand(g, isNsCloudFdr, isNsCloudTop, isNsCloudInnerTop, isX, isY, COL_NS);
  drawBand(g, isNsCloudFdr, isNsCloudInnerBottom, isNsCloudBottom, isX, isY, COL_NS);
  drawPoints(g, isNsFdr, isNsFc, isX, isY, COL_NS, 0.75);
  drawPoints(g, isPinkFdr, isPinkFc, isX, isY, COL_PINK, 0.7);
  drawPoints(g, isRedFdr, isRedFc, isX, isY, COL_RED, 0.82);
  drawPoints(g, isGeneFdr, isGeneFc, isX, isY, COL_RED, 0.82);
  drawThresholds(g, c);
  drawAxes(g, c);
  drawGeneLabels(g, isGeneNames, isGeneFdr, isGeneFc, isLabelFdr, isLabelFc, isX, isY);
})();

// ---------- Panel B ----------
(function () {
  const g = document.getElementById('panelB');
  const c = { fx: covidX, fy: covidY, left: 48.7, right: 881, top: 482, bottom: 851, xTicks: covidXTicks, xMinor: covidXMinor, yTicks: covidYTicks, yMinor: covidYMinor };
  drawGridAndAxes(g, c);
  drawBand(g, covidUpCloudFdr, covidUpCloudTop, covidUpCloudInner, covidX, covidY, COL_PURPLE);
  drawBand(g, covidDownCloudFdr, covidDownCloudInner, covidDownCloudBottom, covidX, covidY, COL_PURPLE);
  drawPoints(g, covidEdgeFdr, covidEdgeFc, covidX, covidY, COL_PURPLE, 0.85);
  drawPoints(g, covidPurpleFdr, covidPurpleFc, covidX, covidY, COL_PURPLE, 0.7);
  drawBand(g, covidNsCloudFdr, covidNsCloudTop, covidNsCloudBottom, covidX, covidY, COL_NS);
  drawPoints(g, covidNsFdr, covidNsFc, covidX, covidY, COL_NS, 0.75);
  drawPoints(g, covidPinkFdr, covidPinkFc, covidX, covidY, COL_PINK, 0.7);
  drawPoints(g, covidRedFdr, covidRedFc, covidX, covidY, COL_RED, 0.82);
  drawPoints(g, covidGeneFdr, covidGeneFc, covidX, covidY, COL_RED, 0.82);
  drawThresholds(g, c);
  drawAxes(g, c);
  drawGeneLabels(g, covidGeneNames, covidGeneFdr, covidGeneFc, covidLabelFdr, covidLabelFc, covidX, covidY);
})();
</script>
</body>
</html>
